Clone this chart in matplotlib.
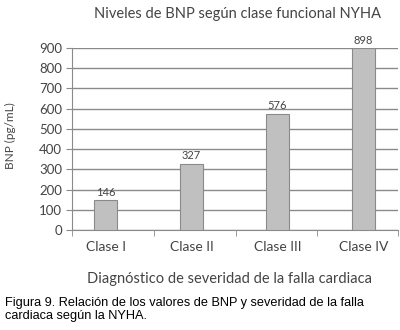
import matplotlib
matplotlib.use("Agg")
import matplotlib.pyplot as plt
import numpy as np

categories = ["Clase I", "Clase II", "Clase III", "Clase IV"]
values = [146, 327, 576, 898]
yticks = [0, 100, 200, 300, 400, 500, 600, 700, 800, 900]

fig = plt.figure(figsize=(4.0, 3.3), dpi=100)
ax = fig.add_axes([0.18, 0.303, 0.815, 0.5515])

x = np.arange(len(categories))
ax.bar(x, values, width=0.27, color="#c0c0c0", edgecolor="#8a8a8a", linewidth=0.8, zorder=3)
for xi, v in zip(x, values):
    ax.text(xi, v + 12, str(v), ha="center", va="bottom", fontsize=8, color="#444444",
            family="Lato", clip_on=False)

ax.set_ylim(0, 900)
ax.set_xlim(-0.39, 3.40)
ax.set_yticks(yticks)
ax.set_yticklabels([str(t) for t in yticks], fontsize=9.5, color="#444444", family="Lato")
ax.yaxis.grid(True, color="#8a8a8a", linewidth=1.0, zorder=0)
ax.set_axisbelow(True)

ax.set_xticks(x)
ax.set_xticklabels(categories, fontsize=10, color="#444444", family="Lato")
ax.tick_params(axis="x", length=0, pad=8)
ax.set_xticks([-0.39, 0.564, 1.517, 2.459, 3.40], minor=True)
ax.tick_params(axis="x", which="minor", length=4, color="#8a8a8a")
ax.tick_params(axis="y", length=4, color="#8a8a8a", pad=3)

for s in ["top", "right"]:
    ax.spines[s].set_visible(False)
ax.spines["left"].set_color("#8a8a8a")
ax.spines["bottom"].set_color("#8a8a8a")

fig.text(0.593, 0.958, "Niveles de BNP según clase funcional NYHA", ha="center", va="center",
         fontsize=10.5, color="#444444", family="Lato")
fig.text(0.025, 0.59, "BNP (pg/mL)", rotation=90, ha="center", va="center",
         fontsize=8.5, color="#444444", family="Lato")
fig.text(0.573, 0.155, "Diagnóstico de severidad de la falla cardiaca", ha="center", va="center",
         fontsize=10.5, color="#444444", family="Lato")
fig.text(0.0125, 0.063, "Figura 9. Relación de los valores de BNP y severidad de la falla\ncardiaca según la NYHA.",
         ha="left", va="center", fontsize=9.2, color="#000000", family="Liberation Sans", linespacing=1.1)

fig.savefig("out.png", dpi=100)
